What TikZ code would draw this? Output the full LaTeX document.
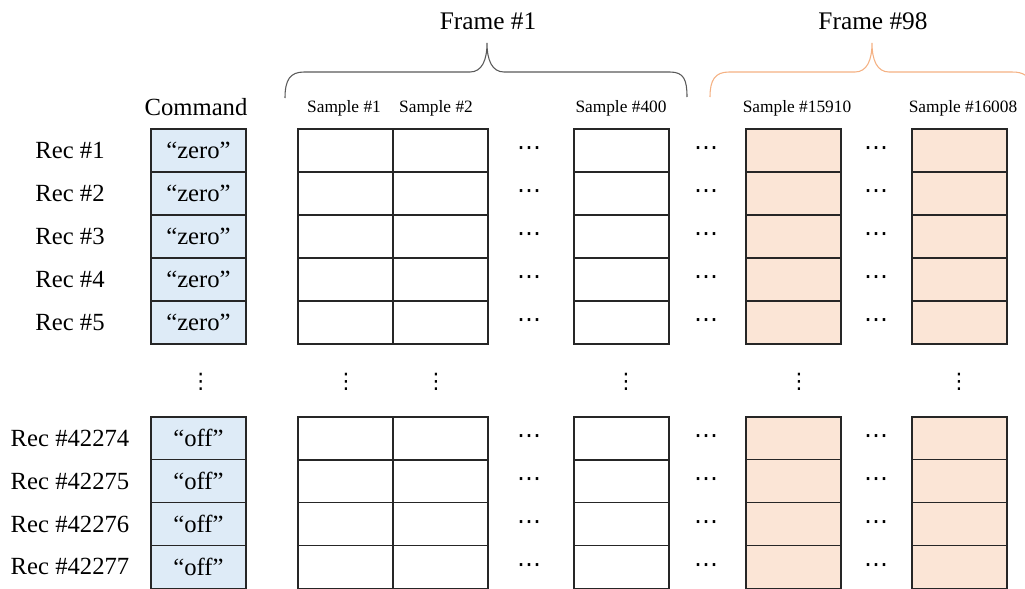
\documentclass[tikz,border=0pt]{standalone}
\usepackage{fontspec}
\setmainfont{Liberation Serif}
\newfontfamily\dotsfont{DejaVu Sans}

\definecolor{cmdblue}{HTML}{DEEBF7}
\definecolor{sampleorange}{HTML}{FBE5D6}
\definecolor{braceorange}{HTML}{F4B183}
\definecolor{bracegray}{HTML}{595959}

\tikzset{
  cell/.style={draw=black!85, line width=1.1pt, minimum width=71.25pt,
    minimum height=32.25pt, inner sep=0pt, outer sep=0pt},
  cmdcell/.style={cell, fill=cmdblue, font=\fontsize{18.5}{18.5}\selectfont},
  ocell/.style={cell, fill=sampleorange},
  reclabel/.style={font=\fontsize{18.5}{18.5}\selectfont},
  samplelabel/.style={font=\fontsize{13}{13}\selectfont},
  framelabel/.style={font=\fontsize{19}{19}\selectfont},
  hdots/.style={inner sep=0pt, font=\dotsfont\fontsize{18}{18}\selectfont},
  vdots/.style={inner sep=0pt, font=\dotsfont\fontsize{16}{16}\selectfont},
}

\begin{document}
\begin{tikzpicture}[x=0.75pt, y=-0.75pt]
        \useasboundingbox (0,0) rectangle (1025,589);

        % Frame headings
        \node[framelabel] (frame1) at (488,21) {Frame \#1};
        \node[framelabel] (frame98) at (873,21) {Frame \#98};

        % Braces
        \draw[bracegray, line width=0.8pt] (285,98) .. controls (285,80) and (290,72) .. (304,72)
            -- (470,72) .. controls (482,72) and (487,60) .. (487,43)
            .. controls (487,60) and (492,72) .. (504,72)
            -- (670,72) .. controls (684,72) and (687,80) .. (687,97);
        \draw[braceorange, line width=0.8pt] (710,97) .. controls (710,80) and (715,72) .. (729,72)
            -- (855,72) .. controls (867,72) and (872,60) .. (872,43)
            .. controls (872,60) and (877,72) .. (889,72)
            -- (1012,72) .. controls (1024,72) and (1029,76) .. (1031,86);

        % Column headings
        \node[reclabel] (cmdhead) at (196,107) {Command};
        \node[samplelabel] (head1) at (344,108) {Sample \#1};
        \node[samplelabel] (head2) at (436,108) {Sample \#2};
        \node[samplelabel] (head400) at (621,108) {Sample \#400};
        \node[samplelabel] (head15910) at (797,108) {Sample \#15910};
        \node[samplelabel] (head16008) at (963,108) {Sample \#16008};

        % Records
        \foreach \i/\y/\rec/\cmd in {1/150.5/1/zero, 2/193.5/2/zero, 3/236.5/3/zero,
            4/279.5/4/zero, 5/322.5/5/zero, 6/438.4/42274/off, 7/481.2/42275/off,
            8/524/42276/off, 9/566.8/42277/off} {
          \node[reclabel] (rec\i) at (70,\y) {Rec \#\rec};
          \node[cmdcell] (cmd\i) at (198.5,\y) {“\cmd”};
          \node[cell] (s1r\i) at (345.5,\y) {};
          \node[cell] (s2r\i) at (440.5,\y) {};
          \node[cell] (s400r\i) at (621.5,\y) {};
          \node[ocell] (s15910r\i) at (793.5,\y) {};
          \node[ocell] (s16008r\i) at (959.5,\y) {};
          \node[hdots] (gapa\i) at (529,\y+1) {⋯};
          \node[hdots] (gapb\i) at (706,\y+1) {⋯};
          \node[hdots] (gapc\i) at (876,\y+1) {⋯};
        }

        % Skipped records
        \foreach \x [count=\k] in {200.7, 346, 436, 626, 799, 959}
          \node[vdots] (skip\k) at (\x,382) {⋮};
    \end{tikzpicture}
\end{document}
